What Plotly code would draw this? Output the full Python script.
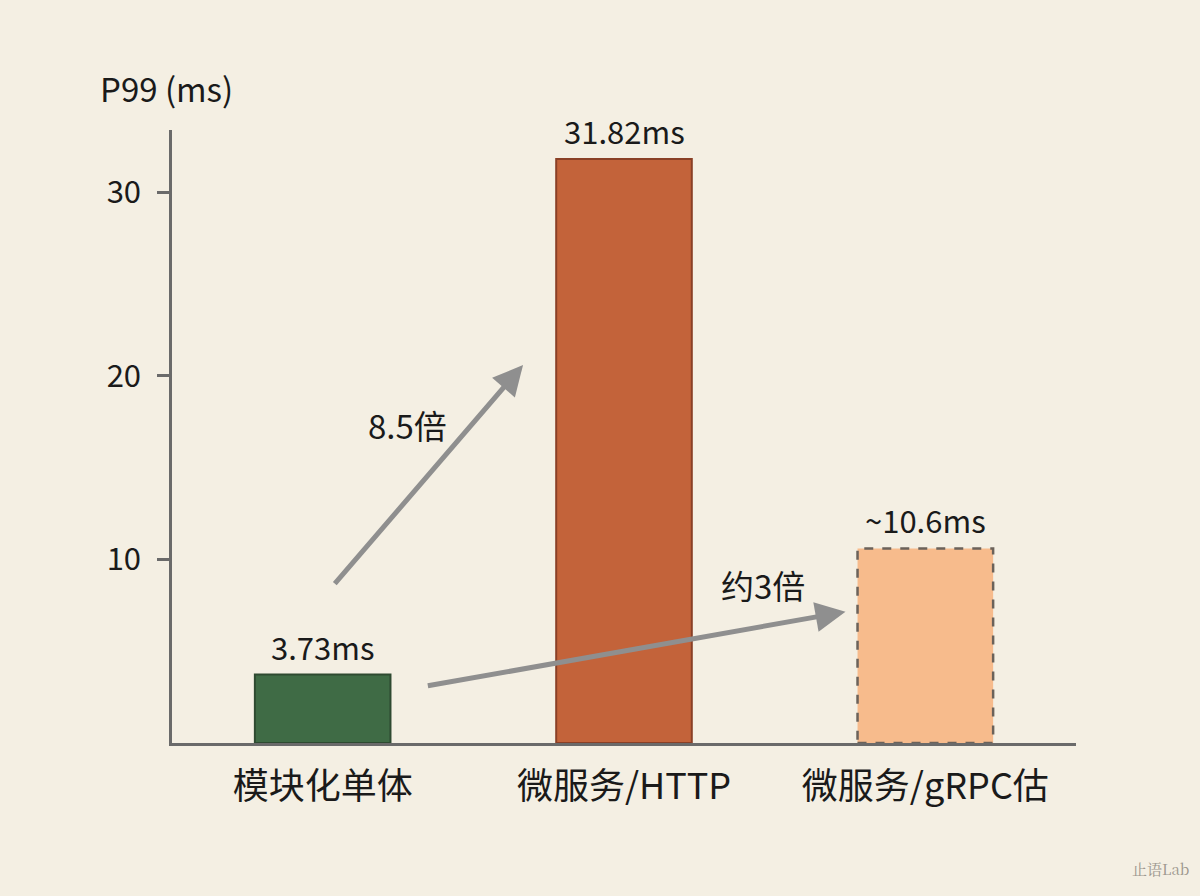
import plotly.graph_objects as go

categories = ["模块化单体", "微服务/HTTP", "微服务/gRPC估"]
p99_ms = [3.73, 31.82, 10.6]
value_labels = ["3.73ms", "31.82ms", "~10.6ms"]
y_ticks = [10, 20, 30]
ratio_labels = ["8.5倍", "约3倍"]

BG = "#f4efe3"
FONT = "Noto Sans CJK SC"
bar_width = 0.45
fill_colors = ["#3f6b45", "#c3633a", "rgba(247,180,128,0.88)"]
line_colors = ["#2e4a31", "#8a4026", "rgba(0,0,0,0)"]

fig = go.Figure()
fig.add_trace(go.Bar(
    x=list(range(len(categories))), y=p99_ms, width=bar_width,
    marker=dict(color=fill_colors, line=dict(color=line_colors, width=2)),
    hoverinfo="skip",
))

# dashed outline for the estimated bar
i3 = 2
fig.add_shape(type="rect", xref="x", yref="y",
              x0=i3 - bar_width / 2, x1=i3 + bar_width / 2, y0=0, y1=p99_ms[i3],
              line=dict(color="#6b625a", width=2.5, dash="dash"), layer="above")

# value labels
for i, (v, t) in enumerate(zip(p99_ms, value_labels)):
    fig.add_annotation(x=i, y=v, text=t, showarrow=False, yanchor="bottom", yshift=4,
                       font=dict(family=FONT, size=31, color="#1a1a1a"))

# arrows
arrow_col = "#8f8f8f"
fig.add_annotation(x=0.665, y=20.6, ax=0.036, ay=8.6, xref="x", yref="y", axref="x", ayref="y",
                   text="", showarrow=True, arrowhead=2, arrowsize=1.2, arrowwidth=5,
                   arrowcolor=arrow_col)
fig.add_annotation(x=1.735, y=7.15, ax=0.344, ay=3.1, xref="x", yref="y", axref="x", ayref="y",
                   text="", showarrow=True, arrowhead=2, arrowsize=1.2, arrowwidth=5,
                   arrowcolor=arrow_col)
fig.add_annotation(x=0.28, y=17.3, text=ratio_labels[0], showarrow=False,
                   font=dict(family=FONT, size=33, color="#1a1a1a"))
fig.add_annotation(x=1.46, y=8.6, text=ratio_labels[1], showarrow=False,
                   font=dict(family=FONT, size=33, color="#1a1a1a"))

# axis title
fig.add_annotation(x=-0.006, y=1.0, xref="paper", yref="paper", text="P99 (ms)", showarrow=False,
                   xanchor="center", yanchor="middle", yshift=42,
                   font=dict(family=FONT, size=33, color="#1a1a1a"))
# watermark
fig.add_annotation(x=1.127, y=-0.204, xref="paper", yref="paper", text="止语Lab", showarrow=False,
                   xanchor="right", yanchor="middle",
                   font=dict(family="Noto Serif CJK SC, DejaVu Serif, serif", size=15, color="#9a958c"))

fig.update_layout(
    width=1200, height=896,
    paper_bgcolor=BG, plot_bgcolor=BG,
    margin=dict(l=172, r=124, t=130, b=153),
    showlegend=False,
    bargap=0.55,
    font=dict(family=FONT, color="#1a1a1a"),
)
fig.update_xaxes(
    tickmode="array", tickvals=list(range(len(categories))), ticktext=categories,
    range=[-0.5, 2.5], showgrid=False, zeroline=False,
    showline=True, linecolor="#6a6a6a", linewidth=2.5,
    ticks="", ticklabelstandoff=10,
    tickfont=dict(family=FONT, size=36, color="#1a1a1a"),
)
fig.update_yaxes(
    range=[0, 33.4], tickvals=y_ticks, showgrid=False, zeroline=False,
    showline=True, linecolor="#6a6a6a", linewidth=2.5,
    ticks="outside", ticklen=12, tickwidth=2.5, tickcolor="#6a6a6a",
    ticklabelstandoff=10,
    tickfont=dict(family=FONT, size=31, color="#1a1a1a"),
)

fig.write_html("out.html", config={"displayModeBar": False},
               post_script="document.body.style.margin='0';document.body.style.background='%s';" % BG)
